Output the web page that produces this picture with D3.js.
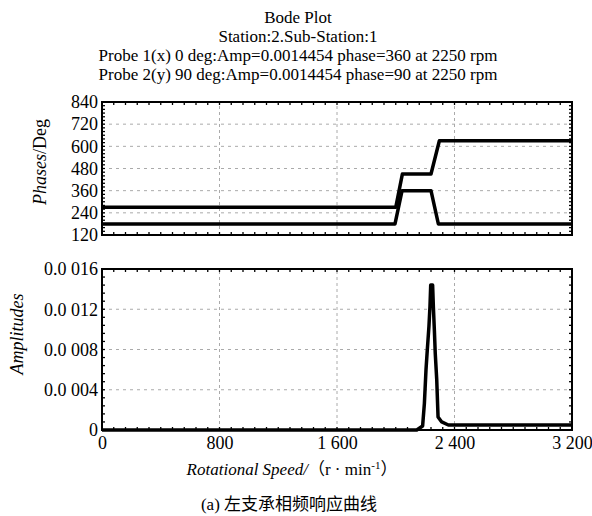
<!DOCTYPE html>
<html>
<head>
<meta charset="utf-8">
<script src="https://cdn.jsdelivr.net/npm/d3@7"></script>
<style>
  body { margin: 0; background: #fff; }
  text { font-family: "Liberation Serif", "Noto Sans CJK SC", serif; fill: #000; }
</style>
</head>
<body>
<svg id="bode" width="592" height="516"></svg>
<script>
const titleLines = [
    "Bode Plot",
    "Station:2.Sub-Station:1",
    "Probe 1(x) 0 deg:Amp=0.0014454 phase=360 at 2250 rpm",
    "Probe 2(y) 90 deg:Amp=0.0014454 phase=90 at 2250 rpm"
];

// phase curves, [rpm, deg]
const phase1 = [[0, 270], [2000, 270], [2045, 450], [2240, 450], [2297, 630], [3200, 630]];
const phase2 = [[0, 180], [1995, 180], [2043, 360], [2240, 360], [2290, 180], [3200, 180]];

// amplitude curve, [rpm, amp]
const amp = [
    [0, 0], [2143, 0], [2183, 0.0004], [2195, 0.00265], [2206, 0.006], [2215, 0.008],
    [2226, 0.0103], [2233, 0.0123], [2238, 0.0144], [2251, 0.0144], [2256, 0.0123],
    [2263, 0.0099], [2269, 0.0076], [2279, 0.005], [2288, 0.0013], [2313, 0.0008],
    [2358, 0.0005], [3200, 0.0005]
];

const xTicks = [0, 800, 1600, 2400, 3200];
const xTickLabels = ["0", "800", "1 600", "2 400", "3 200"];
const phaseTicks = [120, 240, 360, 480, 600, 720, 840];
const ampTicks = [0, 0.004, 0.008, 0.012, 0.016];
const ampTickLabels = ["0", "0.0 004", "0.0 008", "0.0 012", "0.0 016"];

const svg = d3.select("#bode");
const left = 102, right = 572;

const x = d3.scaleLinear().domain([0, 3200]).range([left, right]);
const yPhase = d3.scaleLinear().domain([120, 840]).range([235, 102]);
const yAmp = d3.scaleLinear().domain([0, 0.016]).range([430, 269]);

// title
svg.append("g").selectAll("text")
    .data(titleLines)
    .join("text")
    .attr("x", 298)
    .attr("y", (d, i) => 23 + i * 19)
    .attr("text-anchor", "middle")
    .attr("font-size", 17)
    .text(d => d);

function panel(y, yTicks, yLabels, yMinor, lines) {
    const g = svg.append("g");
    const [y0, y1] = y.range();

    // grid
    g.append("g").selectAll("line")
        .data(yTicks.slice(1, -1))
        .join("line")
        .attr("x1", left).attr("x2", right)
        .attr("y1", d => y(d)).attr("y2", d => y(d))
        .attr("stroke", "#aaa").attr("stroke-width", 1)
        .attr("stroke-dasharray", "3,4");
    g.append("g").selectAll("line")
        .data(xTicks.slice(1, -1))
        .join("line")
        .attr("x1", d => x(d)).attr("x2", d => x(d))
        .attr("y1", y0).attr("y2", y1)
        .attr("stroke", "#aaa").attr("stroke-width", 1)
        .attr("stroke-dasharray", "3,3");

    // minor ticks, inside all four edges
    const xm = d3.range(0, 3201, 80);
    const tk = g.append("g").attr("stroke", "#000").attr("stroke-width", 1.3);
    tk.selectAll(".tb").data(xm).join("line").attr("class", "tb")
        .attr("x1", d => x(d)).attr("x2", d => x(d))
        .attr("y1", y0).attr("y2", y0 - 3);
    tk.selectAll(".tt").data(xm).join("line").attr("class", "tt")
        .attr("x1", d => x(d)).attr("x2", d => x(d))
        .attr("y1", y1).attr("y2", y1 + 3);
    tk.selectAll(".tl").data(yMinor).join("line").attr("class", "tl")
        .attr("x1", left).attr("x2", left + 3)
        .attr("y1", d => y(d)).attr("y2", d => y(d));
    tk.selectAll(".tr").data(yMinor).join("line").attr("class", "tr")
        .attr("x1", right).attr("x2", right - 3)
        .attr("y1", d => y(d)).attr("y2", d => y(d));

    // curves
    const line = d3.line().x(d => x(d[0])).y(d => y(d[1]));
    g.append("g").selectAll("path")
        .data(lines)
        .join("path")
        .attr("fill", "none")
        .attr("stroke", "#000")
        .attr("stroke-width", 3.5)
        .attr("stroke-linejoin", "round")
        .attr("d", line);

    // frame
    g.append("rect")
        .attr("x", left).attr("y", y1)
        .attr("width", right - left).attr("height", y0 - y1)
        .attr("fill", "none").attr("stroke", "#000").attr("stroke-width", 2);

    // y tick labels
    const ya = g.append("g")
        .attr("transform", `translate(${left - 2},0)`)
        .call(d3.axisLeft(y).tickValues(yTicks).tickSize(0).tickPadding(2)
            .tickFormat((d, i) => yLabels[i]));
    ya.select(".domain").remove();
    ya.selectAll("text").attr("font-size", 18).attr("fill", "#000");
    return g;
}

panel(yPhase, phaseTicks, phaseTicks.map(String), d3.range(120, 841, 20), [phase1, phase2]);
panel(yAmp, ampTicks, ampTickLabels, d3.range(0, 0.01601, 0.0008), [amp]);

// x tick labels
const xa = svg.append("g")
    .attr("transform", "translate(0,434)")
    .call(d3.axisBottom(x).tickValues(xTicks).tickSize(0).tickPadding(2)
        .tickFormat((d, i) => xTickLabels[i]));
xa.select(".domain").remove();
xa.selectAll("text").attr("font-size", 18).attr("fill", "#000");

// axis titles
const yl1 = svg.append("text")
    .attr("transform", "translate(46,162) rotate(-90)")
    .attr("text-anchor", "middle")
    .attr("font-size", 18);
yl1.append("tspan").attr("font-style", "italic").text("Phases");
yl1.append("tspan").text("/Deg");

svg.append("text")
    .attr("transform", "translate(23,334) rotate(-90)")
    .attr("text-anchor", "middle")
    .attr("font-size", 18)
    .attr("font-style", "italic")
    .text("Amplitudes");

const xl = svg.append("text")
    .attr("x", 292).attr("y", 475)
    .attr("text-anchor", "middle")
    .attr("font-size", 17);
xl.append("tspan").attr("font-style", "italic").text("Rotational Speed/");
xl.append("tspan").text("（r · min");
xl.append("tspan").attr("dy", -6).attr("font-size", 11).text("-1");
xl.append("tspan").attr("dy", 6).text("）");

svg.append("text")
    .attr("x", 289).attr("y", 510)
    .attr("text-anchor", "middle")
    .attr("font-size", 17)
    .text("(a) 左支承相频响应曲线");
</script>
</body>
</html>
